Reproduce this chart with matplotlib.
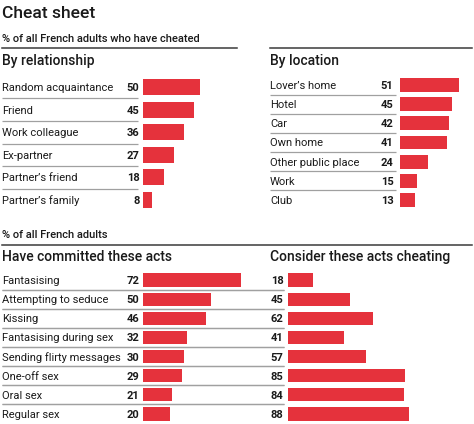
import matplotlib.pyplot as plt
import matplotlib.transforms as mtransforms
from matplotlib.lines import Line2D

plt.rcParams["font.family"] = ["Roboto", "DejaVu Sans"]

# --- data ---
rel_labels = ["Random acquaintance", "Friend", "Work colleague", "Ex-partner",
              "Partner\u2019s friend", "Partner\u2019s family"]
rel_values = [50, 45, 36, 27, 18, 8]

loc_labels = ["Lover\u2019s home", "Hotel", "Car", "Own home",
              "Other public place", "Work", "Club"]
loc_values = [51, 45, 42, 41, 24, 15, 13]

act_labels = ["Fantasising", "Attempting to seduce", "Kissing",
              "Fantasising during sex", "Sending flirty messages",
              "One-off sex", "Oral sex", "Regular sex"]
committed = [72, 50, 46, 32, 30, 29, 21, 20]
consider = [18, 45, 62, 41, 57, 85, 84, 88]

W, H = 474, 424
RED = "#e5323c"
DARK = "#3a3a3a"
GREY = "#a0a0a0"
INK = "#1a1a1a"
FS = 8.0

fig = plt.figure(figsize=(W / 100, H / 100), dpi=100)
fig.patch.set_facecolor("white")


def fx(px):
    return px / W


def fy(py):
    return 1 - py / H


def panel(values, labels, bar_x0, px_per_unit, row0, row1, val_x, label_x,
          sep_x0, sep_x1, bar_h, width_px=130):
    n = len(values)
    step = (row1 - row0) / (n - 1)
    top = row0 - step / 2
    bottom = row1 + step / 2
    ax = fig.add_axes([fx(bar_x0), fy(bottom), width_px / W, (bottom - top) / H])
    ax.set_xlim(0, width_px / px_per_unit)
    ax.set_ylim(n - 0.5, -0.5)
    ax.axis("off")
    ys = list(range(n))
    ax.barh(ys, values, height=bar_h, color=RED, left=0)
    tr = mtransforms.blended_transform_factory(fig.transFigure, ax.transData)
    for i, v in enumerate(values):
        ax.text(fx(val_x), i, str(v), transform=tr, ha="right",
                va="center_baseline", fontsize=FS, fontweight="bold",
                color=INK)
        if labels is not None:
            ax.text(fx(label_x), i, labels[i], transform=tr, ha="left",
                    va="center_baseline", fontsize=FS, color=INK)
    for i in range(n - 1):
        ax.plot([fx(sep_x0), fx(sep_x1)], [i + 0.5, i + 0.5], transform=tr,
                color=GREY, lw=0.9, clip_on=False, solid_capstyle="butt")
    return ax


panel(rel_values, rel_labels, 143, 1.14, 87, 200, 139.5, 2, 2, 138, 0.71)
panel(loc_values, loc_labels, 400, 1.157, 85, 200, 393.5, 270, 270, 396, 0.73)
panel(committed, act_labels, 143, 1.36, 280, 414, 139.5, 2, 2, 284, 0.69)
panel(consider, None, 288, 1.375, 280, 414, 283.5, 270, 2, 284, 0.69)

# heavy rules
for x0, x1, y in [(2, 237, 48), (270, 472, 48), (2, 472, 245)]:
    fig.add_artist(Line2D([fx(x0), fx(x1)], [fy(y), fy(y)], color=DARK,
                          lw=1.1, transform=fig.transFigure))

# titles
fig.text(fx(2), fy(18), "Cheat sheet", fontsize=12.6, fontweight="medium",
         color=INK, va="baseline")
fig.text(fx(2), fy(41.5), "% of all French adults who have cheated",
         fontsize=8.0, fontweight="medium", color=INK, va="baseline")
fig.text(fx(2), fy(65.5), "By relationship", fontsize=10, fontweight="medium",
         color=INK, va="baseline")
fig.text(fx(270), fy(65.5), "By location", fontsize=10, fontweight="medium",
         color=INK, va="baseline")
fig.text(fx(2), fy(238), "% of all French adults", fontsize=8.0,
         fontweight="medium", color=INK, va="baseline")
fig.text(fx(2), fy(261), "Have committed these acts", fontsize=10,
         fontweight="medium", color=INK, va="baseline")
fig.text(fx(270), fy(261), "Consider these acts cheating", fontsize=10,
         fontweight="medium", color=INK, va="baseline")

fig.savefig("out.png", dpi=100, facecolor="white")
